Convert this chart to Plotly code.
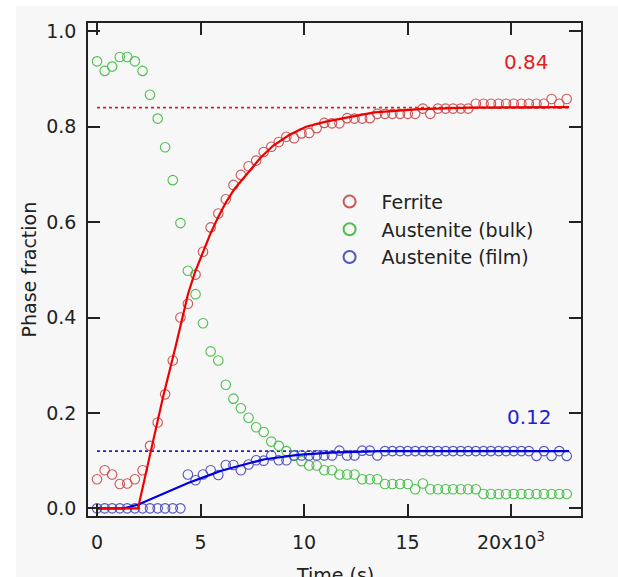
import plotly.graph_objects as go

# time in units of 10^3 s
time_ks = [0.00, 0.37, 0.73, 1.10, 1.46, 1.83, 2.20, 2.56, 2.93, 3.29,
           3.66, 4.03, 4.39, 4.76, 5.12, 5.49, 5.86, 6.22, 6.59, 6.95,
           7.32, 7.69, 8.05, 8.42, 8.78, 9.15, 9.52, 9.88, 10.25, 10.61,
           10.98, 11.35, 11.71, 12.08, 12.44, 12.81, 13.18, 13.54, 13.91, 14.27,
           14.64, 15.01, 15.37, 15.74, 16.10, 16.47, 16.84, 17.20, 17.57, 17.93,
           18.30, 18.67, 19.03, 19.40, 19.76, 20.13, 20.50, 20.86, 21.23, 21.59,
           21.96, 22.33, 22.69]

ferrite = [0.061, 0.080, 0.071, 0.051, 0.052, 0.061, 0.080, 0.131, 0.180, 0.239,
           0.310, 0.400, 0.429, 0.490, 0.538, 0.589, 0.618, 0.648, 0.678, 0.699,
           0.717, 0.729, 0.747, 0.758, 0.768, 0.779, 0.776, 0.786, 0.787, 0.797,
           0.808, 0.807, 0.807, 0.818, 0.817, 0.817, 0.818, 0.827, 0.827, 0.827,
           0.827, 0.827, 0.827, 0.838, 0.827, 0.838, 0.838, 0.838, 0.838, 0.838,
           0.848, 0.848, 0.848, 0.848, 0.848, 0.848, 0.848, 0.848, 0.848, 0.848,
           0.858, 0.848, 0.858]

austenite_bulk = [0.937, 0.917, 0.926, 0.946, 0.946, 0.937, 0.917, 0.867, 0.817, 0.757,
                  0.688, 0.598, 0.498, 0.449, 0.388, 0.329, 0.310, 0.259, 0.230, 0.210,
                  0.190, 0.170, 0.160, 0.140, 0.131, 0.120, 0.110, 0.099, 0.090, 0.090,
                  0.080, 0.080, 0.071, 0.071, 0.071, 0.061, 0.061, 0.061, 0.051, 0.051,
                  0.051, 0.051, 0.040, 0.052, 0.040, 0.040, 0.040, 0.040, 0.040, 0.040,
                  0.040, 0.030, 0.030, 0.030, 0.030, 0.030, 0.030, 0.030, 0.030, 0.030,
                  0.030, 0.030, 0.030]

austenite_film = [0.0, 0.0, 0.0, 0.0, 0.0, 0.0, 0.0, 0.0, 0.0, 0.0,
                  0.0, 0.0, 0.071, 0.059, 0.071, 0.080, 0.070, 0.091, 0.091, 0.080,
                  0.092, 0.101, 0.100, 0.111, 0.101, 0.101, 0.111, 0.111, 0.111, 0.111,
                  0.111, 0.111, 0.121, 0.111, 0.111, 0.121, 0.121, 0.111, 0.120, 0.120,
                  0.120, 0.120, 0.120, 0.120, 0.120, 0.120, 0.120, 0.120, 0.120, 0.120,
                  0.120, 0.120, 0.120, 0.120, 0.120, 0.120, 0.120, 0.120, 0.110, 0.120,
                  0.110, 0.120, 0.110]

# fitted curves
fit_ferrite_t = [0.0, 1.98, 2.6, 3.2, 3.8, 4.4, 4.75, 5.1, 5.5, 5.85, 6.25, 6.65, 7.3,
                 7.9, 8.5, 9.3, 10.1, 11.0, 11.8, 13.4, 15.6, 18.0, 22.8]
fit_ferrite = [0.0, 0.0, 0.12, 0.235, 0.34, 0.45, 0.497, 0.535, 0.578, 0.61, 0.643, 0.67, 0.705,
               0.735, 0.76, 0.783, 0.80, 0.81, 0.817, 0.83, 0.837, 0.84, 0.841]
fit_film_t = [0.0, 1.3, 2.0, 2.8, 3.6, 4.4, 5.2, 6.0, 7.3, 8.1, 9.7, 11.3, 13.7, 22.8]
fit_film = [0.0, 0.0, 0.008, 0.023, 0.038, 0.053, 0.066, 0.079, 0.094, 0.103, 0.112, 0.117, 0.12, 0.12]

level_t = [0.0, 22.8]
ferrite_level = [0.84, 0.84]
film_level = [0.12, 0.12]

x_ticks = [0, 5, 10, 15, 20]
x_ticklabels = ["0", "5", "10", "15", "20x10<sup>3</sup>"]
y_ticks = [0.0, 0.2, 0.4, 0.6, 0.8, 1.0]
y_ticklabels = ["0.0", "0.2", "0.4", "0.6", "0.8", "1.0"]

FONT = "DejaVu Sans"
RED_M = "#cc5555"
GREEN_M = "#4cbf4c"
BLUE_M = "#5555bb"

fig = go.Figure()

fig.add_trace(go.Scatter(x=level_t, y=ferrite_level, mode="lines",
                         line=dict(color="#e02020", width=1.6, dash="3px,3px"), showlegend=False))
fig.add_trace(go.Scatter(x=level_t, y=film_level, mode="lines",
                         line=dict(color="#2020d0", width=1.6, dash="3px,3px"), showlegend=False))

fig.add_trace(go.Scatter(x=time_ks, y=ferrite, mode="markers", name="Ferrite",
                         marker=dict(symbol="circle-open", size=9.5, color=RED_M, line=dict(width=1.1))))
fig.add_trace(go.Scatter(x=time_ks, y=austenite_bulk, mode="markers", name="Austenite (bulk)",
                         marker=dict(symbol="circle-open", size=9.5, color=GREEN_M, line=dict(width=1.1))))
fig.add_trace(go.Scatter(x=time_ks, y=austenite_film, mode="markers", name="Austenite (film)",
                         marker=dict(symbol="circle-open", size=9.5, color=BLUE_M, line=dict(width=1.1))))

fig.add_trace(go.Scatter(x=fit_film_t, y=fit_film, mode="lines",
                         line=dict(color="#0000e0", width=2.2), showlegend=False))
fig.add_trace(go.Scatter(x=fit_ferrite_t, y=fit_ferrite, mode="lines",
                         line=dict(color="#ee0000", width=2.2), showlegend=False))

axis_common = dict(showline=True, linecolor="#222222", linewidth=1.5, mirror="allticks",
                   ticks="inside", ticklen=12, tickwidth=1.5, tickcolor="#222222",
                   showgrid=False, zeroline=False,
                   tickfont=dict(family=FONT, size=19, color="#222222"))

fig.update_xaxes(range=[-0.435, 23.38], tickvals=x_ticks, ticktext=x_ticklabels,
                 ticklabelstandoff=8, **axis_common)
fig.update_yaxes(range=[-0.016, 1.0174], tickvals=y_ticks, ticktext=y_ticklabels,
                 ticklabelstandoff=6, **axis_common)

fig.update_layout(
    width=618, height=577,
    margin=dict(l=88, r=37, t=23, b=61),
    paper_bgcolor="white",
    plot_bgcolor="#f7f7f7",
    font=dict(family=FONT, size=19, color="#222222"),
    showlegend=True,
    legend=dict(x=0.4657, y=0.676, xanchor="left", yanchor="top", itemwidth=54,
                itemsizing="constant",
                bgcolor="rgba(0,0,0,0)", font=dict(family=FONT, size=19, color="#222222"),
                tracegroupgap=0),
    shapes=[dict(type="rect", xref="paper", yref="paper", x0=-0.146, x1=1.08, y0=-0.13, y1=1.0345,
                 fillcolor="#f7f7f7", line=dict(width=0), layer="below")],
    annotations=[
        dict(text="0.84", x=0.890, y=0.921, xref="paper", yref="paper", showarrow=False,
             xanchor="center", yanchor="middle",
             font=dict(family=FONT, size=20, color="#dd2222")),
        dict(text="0.12", x=0.896, y=0.200, xref="paper", yref="paper", showarrow=False,
             xanchor="center", yanchor="middle",
             font=dict(family=FONT, size=20, color="#2222cc")),
        dict(text="Time (s)", x=0.5, y=-0.1197, xref="paper", yref="paper", showarrow=False,
             xanchor="center", yanchor="middle",
             font=dict(family=FONT, size=19, color="#222222")),
        dict(text="Phase fraction", x=-0.1217, y=0.5, xref="paper", yref="paper", showarrow=False,
             xanchor="center", yanchor="middle", textangle=-90,
             font=dict(family=FONT, size=19, color="#222222")),
    ],
)

fig.write_html("out.html", config={"displayModeBar": False},
               post_script="document.body.style.margin='0';")
